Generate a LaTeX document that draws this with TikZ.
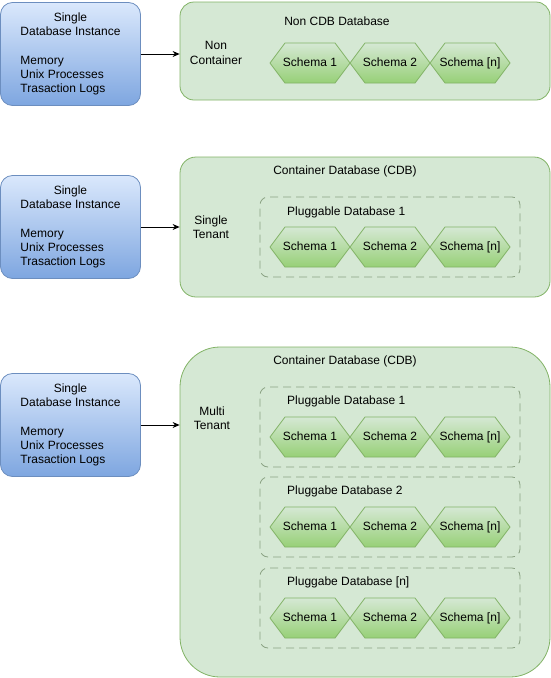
\documentclass[tikz,border=0pt]{standalone}
\usepackage{fontspec}
\setmainfont{Liberation Sans}
\usetikzlibrary{arrows.meta}
\definecolor{instB}{HTML}{6C8EBF}
\definecolor{instT}{HTML}{DAE8FC}
\definecolor{instBot}{HTML}{7EA6E0}
\definecolor{contB}{HTML}{82B366}
\definecolor{contF}{HTML}{D5E8D4}
\definecolor{hexT}{HTML}{D5E8D4}
\definecolor{hexBot}{HTML}{97D077}
\definecolor{dashC}{HTML}{8AA283}
\tikzset{
 inst/.style={draw=instB, rounded corners=12pt, top color=instT, bottom color=instBot, minimum width=140pt, minimum height=103pt, inner sep=0pt, line width=0.8pt},
 cont/.style={draw=contB, fill=contF, line width=0.8pt, minimum width=370pt, inner sep=0pt},
 pdb/.style={draw=dashC, dash pattern=on 8pt off 5pt, rounded corners=8pt, minimum width=260pt, minimum height=80pt, line width=0.8pt, inner sep=0pt},
 hexsty/.style={draw=contB, top color=hexT, bottom color=hexBot, line width=0.8pt},
 schematext/.style={inner sep=0pt, minimum width=80pt, minimum height=40pt, text height=9pt, text depth=3pt},
 lbl/.style={inner sep=0pt, align=center},
 conn/.style={-{Stealth[length=7pt,width=6pt]}, line width=0.8pt}
}
\newcommand{\insttext}{\begin{tabular}{@{}l@{}}\multicolumn{1}{@{}c@{}}{Single}\\\multicolumn{1}{@{}c@{}}{Database Instance}\\[0pt] \\ Memory\\Unix Processes\\Trasaction Logs\end{tabular}}
% #1 node name, #2 x, #3 y, #4 text
\newcommand{\schemahex}[4]{%
 \coordinate (#1c) at (#2,#3);
 \path[hexsty] ([shift={(-40,0)}]#1c) -- ++(15,-20) -- ++(50,0) -- ++(15,20) -- ++(-15,20) -- ++(-50,0) -- cycle;
 \node[schematext] (#1) at (#1c) {#4};
}
\begin{document}
\begin{tikzpicture}[x=1pt,y=-1pt,font=\fontsize{12}{14.3}\selectfont]
\useasboundingbox (0,0) rectangle (551,678);
% row 1
\node[inst] (b1) at (70.5,54) {\insttext};
\node[cont, rounded corners=14pt, minimum height=98pt] (c1) at (365,51) {};
\node[lbl] (t1) at (337,21) {Non CDB Database};
\node[lbl] (l1) at (216,53) {Non\\Container};
\schemahex{s11}{310}{63}{Schema 1}
\schemahex{s12}{390}{63}{Schema 2}
\schemahex{s13}{470}{63}{Schema [n]}
\draw[conn] (b1.east) -- (b1.east -| c1.west);
% row 2
\node[inst] (b2) at (70.5,227) {\insttext};
\node[cont, rounded corners=16pt, minimum height=140pt] (c2) at (365,227) {};
\node[lbl] (t2) at (345,171) {Container Database (CDB)};
\node[lbl] (l2) at (211,227) {Single\\Tenant};
\node[pdb] (p21) at (390,237) {};
\node[lbl, anchor=west] (p21t) at (287,212) {Pluggable Database 1};
\schemahex{s21}{310}{247}{Schema 1}
\schemahex{s22}{390}{247}{Schema 2}
\schemahex{s23}{470}{247}{Schema [n]}
\draw[conn] (b2.east) -- (b2.east -| c2.west);
% row 3
\node[inst] (b3) at (70.5,425) {\insttext};
\node[cont, rounded corners=40pt, minimum height=330pt] (c3) at (365,512) {};
\node[lbl] (t3) at (345,361) {Container Database (CDB)};
\node[lbl] (l3) at (212,418) {Multi\\Tenant};
\node[pdb] (p31) at (390,427) {};
\node[lbl, anchor=west] (p31t) at (287,401) {Pluggable Database 1};
\schemahex{s311}{310}{437}{Schema 1}
\schemahex{s312}{390}{437}{Schema 2}
\schemahex{s313}{470}{437}{Schema [n]}
\node[pdb] (p32) at (390,517) {};
\node[lbl, anchor=west] (p32t) at (287,491) {Pluggabe Database 2};
\schemahex{s321}{310}{527}{Schema 1}
\schemahex{s322}{390}{527}{Schema 2}
\schemahex{s323}{470}{527}{Schema [n]}
\node[pdb] (p33) at (390,608) {};
\node[lbl, anchor=west] (p33t) at (287,582) {Pluggabe Database [n]};
\schemahex{s331}{310}{618}{Schema 1}
\schemahex{s332}{390}{618}{Schema 2}
\schemahex{s333}{470}{618}{Schema [n]}
\draw[conn] (b3.east) -- (b3.east -| c3.west);
\end{tikzpicture}
\end{document}
